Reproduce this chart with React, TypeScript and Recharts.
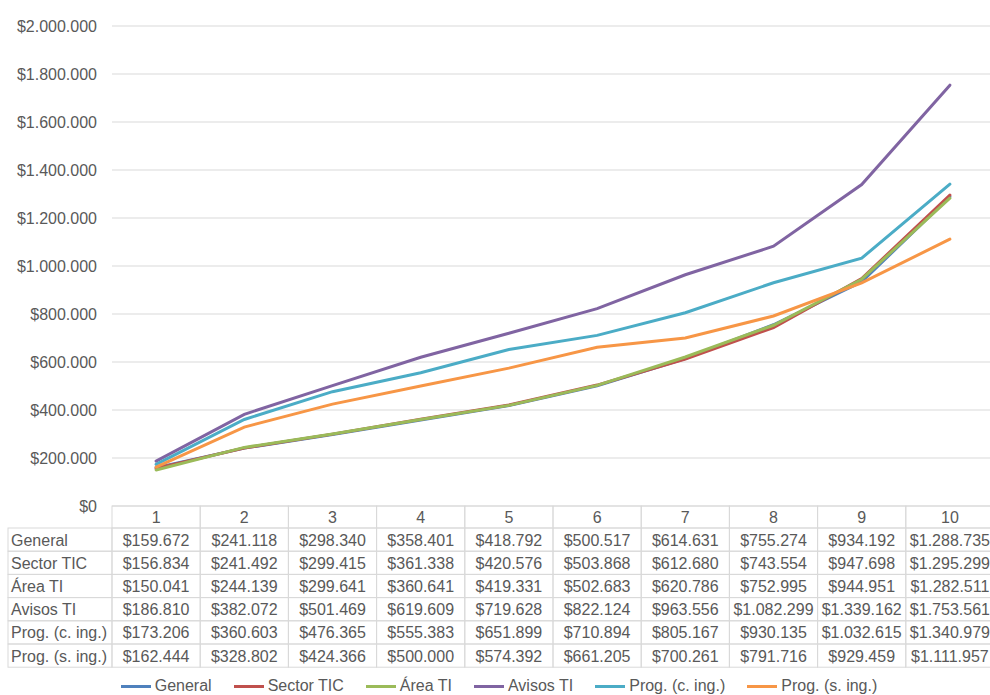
import { LineChart, Line, XAxis, YAxis, CartesianGrid } from "recharts";

const categories = ["1", "2", "3", "4", "5", "6", "7", "8", "9", "10"];
const general = [159672, 241118, 298340, 358401, 418792, 500517, 614631, 755274, 934192, 1288735];
const sectorTic = [156834, 241492, 299415, 361338, 420576, 503868, 612680, 743554, 947698, 1295299];
const areaTi = [150041, 244139, 299641, 360641, 419331, 502683, 620786, 752995, 944951, 1282511];
const avisosTi = [186810, 382072, 501469, 619609, 719628, 822124, 963556, 1082299, 1339162, 1753561];
const progCIng = [173206, 360603, 476365, 555383, 651899, 710894, 805167, 930135, 1032615, 1340979];
const progSIng = [162444, 328802, 424366, 500000, 574392, 661205, 700261, 791716, 929459, 1111957];
const yTicks = [0, 200000, 400000, 600000, 800000, 1000000, 1200000, 1400000, 1600000, 1800000, 2000000];

const series = [
  { key: "general", name: "General", values: general, color: "#4F81BD" },
  { key: "sectorTic", name: "Sector TIC", values: sectorTic, color: "#C0504D" },
  { key: "areaTi", name: "Área TI", values: areaTi, color: "#9BBB59" },
  { key: "avisosTi", name: "Avisos TI", values: avisosTi, color: "#8064A2" },
  { key: "progCIng", name: "Prog. (c. ing.)", values: progCIng, color: "#4BACC6" },
  { key: "progSIng", name: "Prog. (s. ing.)", values: progSIng, color: "#F79646" },
];

const data = categories.map((cat, i) => {
  const row: Record<string, string | number> = { cat };
  series.forEach((s) => (row[s.key] = s.values[i]));
  return row;
});

const fmt = (v: number) => "$" + String(v).replace(/\B(?=(\d{3})+(?!\d))/g, ".");

const TEXT = "#595959";
const BORDER = "#D9D9D9";
const FONT = "'Liberation Sans', Arial, sans-serif";

// tabla bajo el eje: posiciones fijas del layout
const CHART_W = 996;
const CHART_H = 695;
const PLOT_LEFT = 112;
const PLOT_RIGHT_MARGIN = 2;
const BAND = (CHART_W - PLOT_LEFT - PLOT_RIGHT_MARGIN) / categories.length;
const TABLE_TOP = 506;
const HEAD_H = 22;
const ROW_H = 23.2;

function TableTick(props: any) {
  const { x, index, payload } = props;
  const x0 = x - BAND / 2;
  return (
    <g fontFamily={FONT} fontSize={16} fill={TEXT}>
      <rect x={x0} y={TABLE_TOP} width={BAND} height={HEAD_H} fill="none" stroke={BORDER} />
      <text x={x} y={TABLE_TOP + HEAD_H / 2 + 6} textAnchor="middle">
        {payload.value}
      </text>
      {series.map((s, r) => {
        const y = TABLE_TOP + HEAD_H + r * ROW_H;
        return (
          <g key={s.key}>
            <rect x={x0} y={y} width={BAND} height={ROW_H} fill="none" stroke={BORDER} />
            <text x={x} y={y + ROW_H / 2 + 6} textAnchor="middle">
              {fmt(s.values[index])}
            </text>
          </g>
        );
      })}
      {index === 0 &&
        series.map((s, r) => {
          const y = TABLE_TOP + HEAD_H + r * ROW_H;
          return (
            <g key={"lbl" + s.key}>
              <rect x={8} y={y} width={PLOT_LEFT - 8} height={ROW_H} fill="none" stroke={BORDER} />
              <text x={11} y={y + ROW_H / 2 + 6} textAnchor="start">
                {s.name}
              </text>
            </g>
          );
        })}
    </g>
  );
}

export default function App() {
  return (
    <div
      style={{
        position: "absolute",
        left: 0,
        top: 0,
        width: 990,
        height: 695,
        overflow: "hidden",
        background: "#fff",
        fontFamily: FONT,
      }}
    >
      <LineChart
        width={CHART_W}
        height={CHART_H}
        data={data}
        margin={{ top: 26, right: PLOT_RIGHT_MARGIN, bottom: 0, left: 0 }}
      >
        <CartesianGrid vertical={false} stroke={BORDER} strokeWidth={1} />
        <XAxis
          dataKey="cat"
          height={189}
          axisLine={false}
          tickLine={false}
          interval={0}
          padding={{ left: BAND / 2, right: BAND / 2 }}
          tick={<TableTick />}
        />
        <YAxis
          width={PLOT_LEFT}
          domain={[0, 2000000]}
          ticks={yTicks}
          tickFormatter={fmt}
          axisLine={false}
          tickLine={false}
          tickSize={0}
          tickMargin={15}
          tick={{ fontSize: 16, fill: TEXT, fontFamily: FONT }}
        />
        {series.map((s) => (
          <Line
            key={s.key}
            type="linear"
            dataKey={s.key}
            name={s.name}
            stroke={s.color}
            strokeWidth={3}
            dot={false}
            activeDot={false}
            strokeLinecap="round"
            isAnimationActive={false}
          />
        ))}
      </LineChart>
      <div
        style={{
          position: "absolute",
          left: 0,
          top: 677,
          width: 998,
          display: "flex",
          justifyContent: "center",
          gap: 22,
          fontSize: 16,
          color: TEXT,
          lineHeight: "18px",
        }}
      >
        {series.map((s) => (
          <div key={s.key} style={{ display: "flex", alignItems: "center" }}>
            <span style={{ display: "inline-block", width: 30, height: 3, background: s.color, marginRight: 4 }} />
            <span>{s.name}</span>
          </div>
        ))}
      </div>
    </div>
  );
}
